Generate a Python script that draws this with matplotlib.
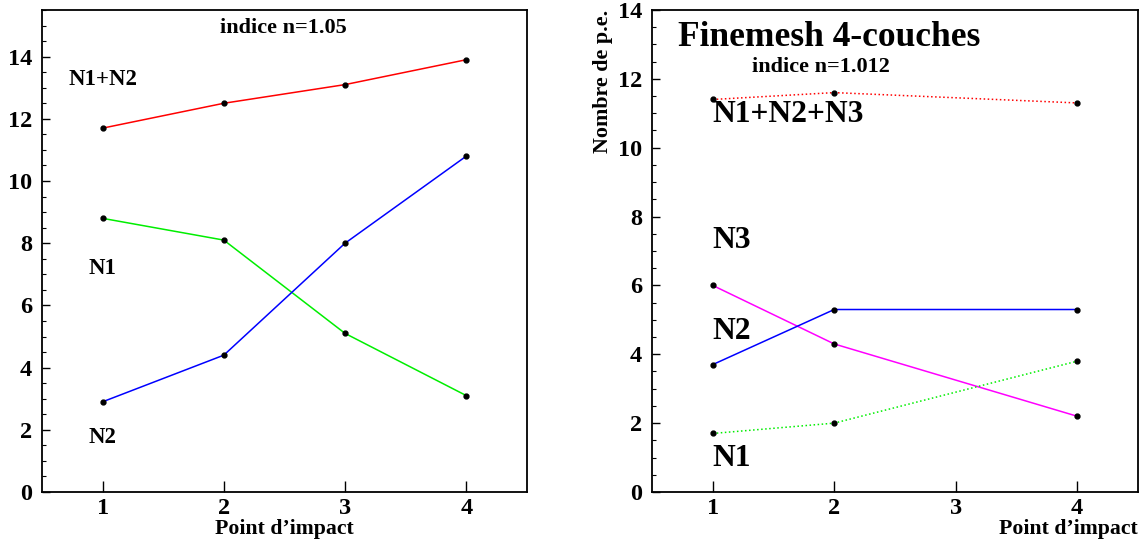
import numpy as np
import matplotlib
matplotlib.use('Agg')
from matplotlib import pyplot as plt
from matplotlib.ticker import MultipleLocator

plt.rcParams['font.family'] = ['Liberation Serif', 'DejaVu Serif']
plt.rcParams['font.weight'] = 'bold'

# left panel: indice n=1.05
x_left = [1, 2, 3, 4]
sum_left = [11.7, 12.5, 13.1, 13.9]
n1_left = [8.8, 8.1, 5.1, 3.1]
n2_left = [2.9, 4.4, 8.0, 10.8]

# right panel: Finemesh 4-couches, indice n=1.012
x_right = [1, 2, 4]
sum_right = [11.4, 11.6, 11.3]
n3_right = [6.0, 4.3, 2.2]
n2_right = [3.7, 5.3, 5.3]
n1_right = [1.7, 2.0, 3.8]

fig = plt.figure(figsize=(11.4, 5.48), dpi=100)
ax1 = fig.add_axes([0.0368, 0.1022, 0.4254, 0.8796])
ax2 = fig.add_axes([0.5719, 0.1022, 0.4263, 0.8796])


def style(ax, ymax):
    ax.set_xlim(0.5, 4.5)
    ax.set_ylim(0, ymax)
    ax.set_xticks([1, 2, 3, 4])
    ax.yaxis.set_major_locator(MultipleLocator(2))
    ax.yaxis.set_minor_locator(MultipleLocator(0.5))
    ax.tick_params(axis='both', which='both', direction='in', labelsize=17.5,
                   right=False, top=False)
    ax.tick_params(axis='y', which='major', length=6, width=1, pad=7)
    ax.tick_params(axis='y', which='minor', length=3, width=0.8)
    ax.tick_params(axis='x', which='major', length=8, width=1, pad=4)
    for lbl in ax.get_xticklabels() + ax.get_yticklabels():
        lbl.set_fontweight('bold')
    for s in ax.spines.values():
        s.set_linewidth(1.3)


def series(ax, x, y, color, ls='-'):
    ax.plot(x, y, color=color, linestyle=ls, linewidth=1.1, zorder=2)
    ax.plot(x, y, 'o', color='black', markersize=3.5, zorder=3)


series(ax1, x_left, sum_left, 'red')
series(ax1, x_left, n1_left, '#00ee00')
series(ax1, x_left, n2_left, 'blue')
style(ax1, 15.5)
ax1.set_xlabel("Point d\u2019impact", fontsize=15.7, fontweight='bold', labelpad=0)
ax1.text(2.49, 14.93, 'indice n=1.05', fontsize=16, fontweight='bold',
         ha='center', va='center')
ax1.text(1.0, 13.26, 'N1+N2', fontsize=16.4, fontweight='bold', ha='center', va='center')
ax1.text(1.0, 7.2, 'N1', fontsize=16.4, fontweight='bold', ha='center', va='center')
ax1.text(1.0, 1.74, 'N2', fontsize=16.4, fontweight='bold', ha='center', va='center')

series(ax2, x_right, sum_right, 'red', ':')
series(ax2, x_right, n3_right, 'magenta')
series(ax2, x_right, n2_right, 'blue')
series(ax2, x_right, n1_right, '#00ee00', ':')
style(ax2, 14)
ax2.set_ylabel('Nombre de p.e.', fontsize=15.8, fontweight='bold')
ax2.yaxis.set_label_coords(-0.08, 1.0)
ax2.yaxis.label.set_ha('right')
ax2.set_xlabel("Point d\u2019impact", fontsize=15.7, fontweight='bold')
ax2.xaxis.set_label_coords(1.0, -0.055)
ax2.xaxis.label.set_ha('right')
ax2.text(0.715, 13.2, 'Finemesh 4-couches', fontsize=25.5, fontweight='bold',
         ha='left', va='center')
ax2.text(1.326, 12.34, 'indice n=1.012', fontsize=16, fontweight='bold',
         ha='left', va='center')
ax2.text(1.0, 10.95, 'N1+N2+N3', fontsize=22.7, fontweight='bold', ha='left', va='center')
ax2.text(1.0, 7.29, 'N3', fontsize=22.7, fontweight='bold', ha='left', va='center')
ax2.text(1.0, 4.65, 'N2', fontsize=22.7, fontweight='bold', ha='left', va='center')
ax2.text(1.0, 0.98, 'N1', fontsize=22.7, fontweight='bold', ha='left', va='center')

fig.savefig('out.png', dpi=100)
